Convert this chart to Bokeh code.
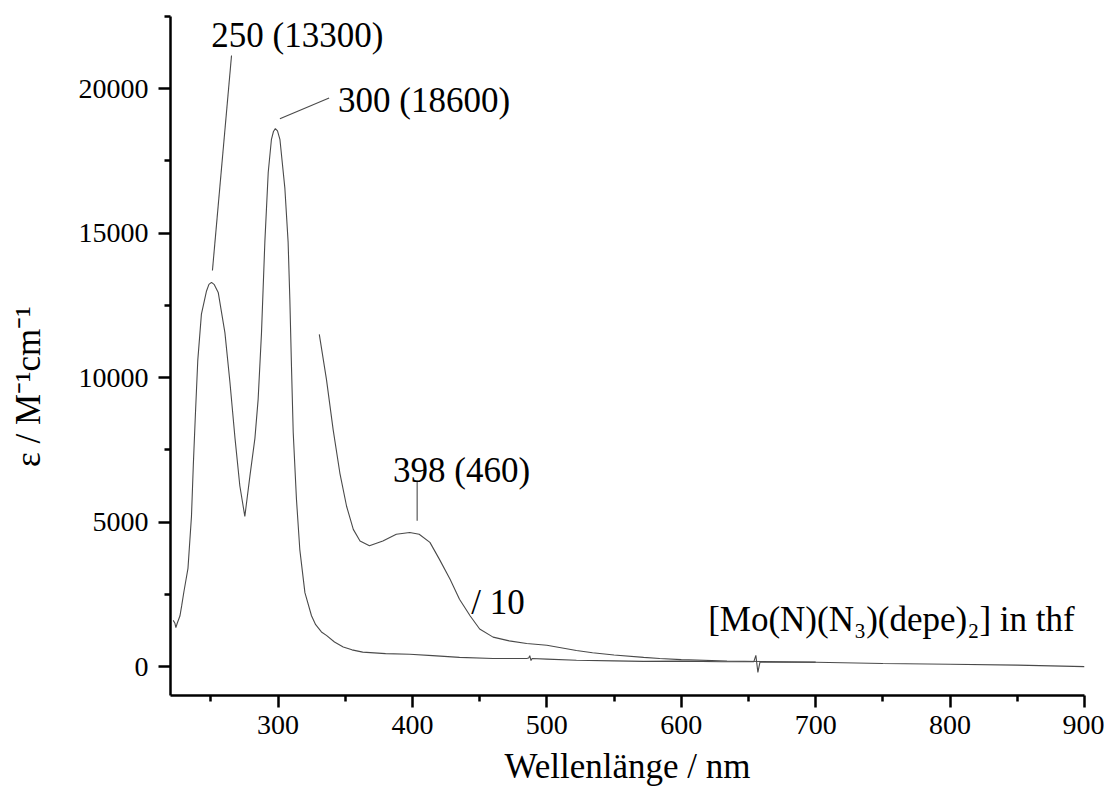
from bokeh.plotting import figure
from bokeh.models import Range1d, FixedTicker, Label
from bokeh.embed import file_html
from bokeh.resources import INLINE

# ---------------- data ----------------
wl_main = [222, 223.3, 224, 225, 227, 228.3, 230, 233, 235.6, 237, 238.5, 240.3, 243,
           246.8, 248.6, 250.5, 252.6, 255.5, 260.5, 264.2, 268, 271.6, 275.3, 279.1,
           282.8, 285.2, 287.7, 290.2, 292.7, 295.1, 296.6, 298, 299.6, 301.4, 305.1,
           307.5, 308.8, 310, 311.3, 313.7, 316.2, 320, 324.9, 328, 332.3, 336, 342,
           348.5, 355, 363, 380, 398, 415, 435, 460, 485, 486.5, 487.3, 488.2, 489, 500,
           522, 550, 572, 600, 630, 654, 655.5, 657, 658.5, 670, 700, 750, 800, 850, 900]
eps_main = [1600, 1500, 1350, 1500, 1750, 2100, 2600, 3400, 5200, 7000, 8700, 10600, 12200,
            13000, 13230, 13300, 13220, 12950, 11550, 9850, 7900, 6250, 5200, 6600,
            7900, 9250, 11550, 14700, 17100, 18250, 18520, 18620, 18540, 18250, 16550,
            14700, 12700, 10400, 8100, 5800, 4050, 2560, 1760, 1450, 1200, 1080, 850,
            680, 580, 500, 450, 430, 380, 320, 280, 280, 300, 380, 210, 280, 260,
            220, 200, 180, 190, 170, 170, 390, -200, 150, 150, 150, 110, 80, 50, 0]

wl_x10 = [330.7, 336, 341, 346, 351, 356, 361, 368, 378, 388, 398, 405, 413, 420, 428,
          435, 443, 450, 460, 472, 485, 500, 522, 534, 550, 572, 584, 600, 634, 660, 700]
eps_x10 = [11500, 9950, 8200, 6700, 5550, 4750, 4350, 4180, 4350, 4580, 4640, 4580, 4300,
           3720, 3020, 2330, 1750, 1300, 1020, 890, 800, 740, 560, 480, 400, 320, 280,
           240, 195, 175, 155]

x_ticks = [300, 400, 500, 600, 700, 800, 900]
x_minor = [250, 350, 450, 550, 650, 750, 850]
y_ticks = [0, 5000, 10000, 15000, 20000]
y_minor = [2500, 7500, 12500, 17500, 22500]

peak_labels = ["250 (13300)", "300 (18600)", "398 (460)"]
scale_label = "/ 10"
sample_label = "[Mo(N)(N\u2083)(depe)\u2082] in thf"
x_title = "Wellenl\u00e4nge / nm"
y_title = "\u03b5 / M\u207b\u00b9cm\u207b\u00b9"

# leader lines (data coords) : x0, y0, x1, y1
lead_x0 = [265.4, 338.0, 403.5]
lead_y0 = [21150, 19680, 6430]
lead_x1 = [251.2, 301.4, 403.5]
lead_y1 = [13710, 18965, 5050]

FONT = "Liberation Serif"
LINE = "#4a4a4a"

p = figure(width=1104, height=795, output_backend="svg", toolbar_location=None,
           x_range=Range1d(220, 900), y_range=Range1d(-1000, 22500),
           min_border_left=170, min_border_right=20, min_border_top=16,
           min_border_bottom=100)
p.outline_line_color = None
p.xgrid.visible = False
p.ygrid.visible = False
p.background_fill_color = "white"

p.line(wl_main, eps_main, line_color=LINE, line_width=1.1)
p.line(wl_x10, eps_x10, line_color=LINE, line_width=1.1)
p.segment(lead_x0, lead_y0, lead_x1, lead_y1, line_color=LINE, line_width=1.1)

for ax in (p.xaxis[0], p.yaxis[0]):
    ax.axis_line_width = 2.5
    ax.axis_line_color = "black"
    ax.major_tick_line_width = 2.5
    ax.minor_tick_line_width = 2.5
    ax.major_tick_line_color = "black"
    ax.minor_tick_line_color = "black"
    ax.major_tick_out = 12
    ax.major_tick_in = 0
    ax.minor_tick_out = 6
    ax.minor_tick_in = 0
    ax.major_label_text_font = FONT
    ax.major_label_text_font_size = "28px"
    ax.major_label_text_color = "black"
    ax.axis_label_text_font = FONT
    ax.axis_label_text_font_size = "35px"
    ax.axis_label_text_font_style = "normal"
    ax.axis_label_text_color = "black"

p.xaxis[0].ticker = FixedTicker(ticks=x_ticks, minor_ticks=x_minor)
p.yaxis[0].ticker = FixedTicker(ticks=y_ticks, minor_ticks=y_minor)
p.xaxis[0].major_label_standoff = 8
p.yaxis[0].major_label_standoff = 10

p.xaxis[0].axis_label = x_title
p.xaxis[0].axis_label_standoff = 10
# trailing no-break spaces shift the rotated label down, as in the reference
p.yaxis[0].axis_label = y_title + "\u00a0" * 7
p.yaxis[0].axis_label_standoff = 28

def txt(x, y, s, size="35px", **kw):
    p.add_layout(Label(x=x, y=y, text=s, text_font=FONT, text_font_size=size,
                       text_color="black", text_baseline="alphabetic", **kw))

txt(250.3, 21830, peak_labels[0])
txt(344.7, 19600, peak_labels[1])
txt(385.6, 6780, peak_labels[2])
txt(443.7, 2218, scale_label)
txt(620.0, 1646, sample_label)

open("out.html", "w").write(file_html(p, INLINE))
